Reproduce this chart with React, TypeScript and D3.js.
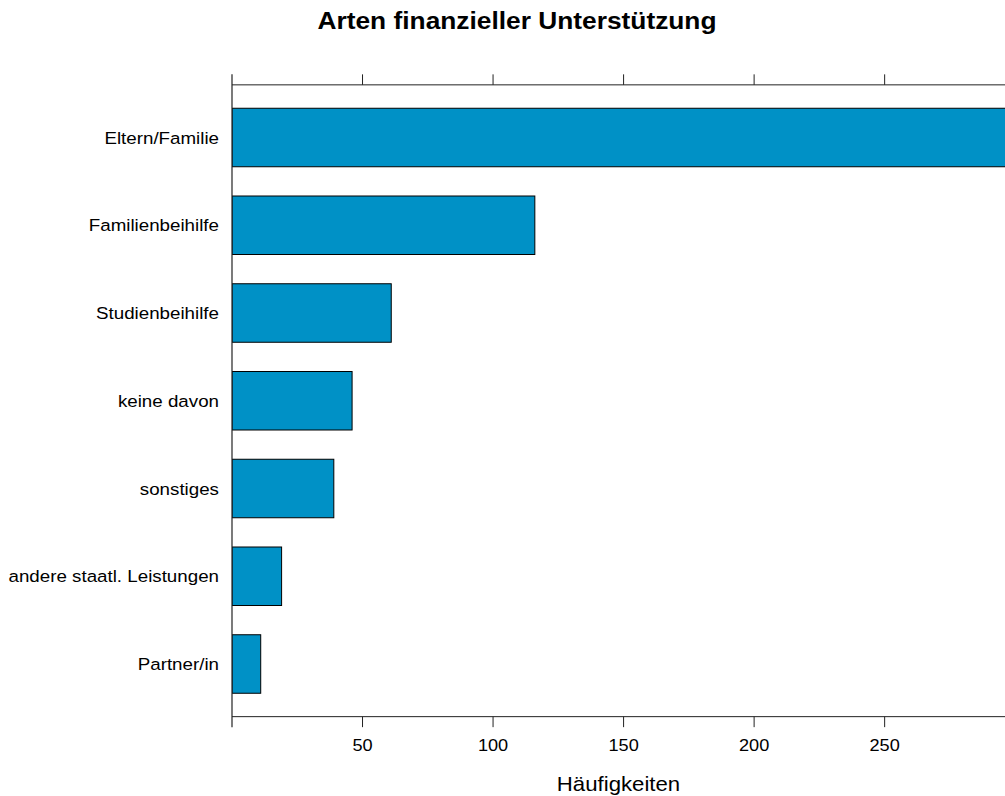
import React, { useRef, useEffect } from "react";
import * as d3 from "d3";

// data (top to bottom)
const categories = [
  "Eltern/Familie",
  "Familienbeihilfe",
  "Studienbeihilfe",
  "keine davon",
  "sonstiges",
  "andere staatl. Leistungen",
  "Partner/in",
];
const counts = [300, 116, 61, 46, 39, 19, 11];
const xTicks = [50, 100, 150, 200, 250];

const TITLE = "Arten finanzieller Unterstützung";
const X_LABEL = "Häufigkeiten";
const BAR_COLOR = "#0091c6";
const FONT = "'Liberation Sans', Arial, Helvetica, sans-serif";

// the reference text is a bit wider than Arial, so stretch it horizontally
function placeText(
  sel: d3.Selection<SVGTextElement, any, any, any>,
  fx: (d: any, i: number) => number,
  fy: (d: any, i: number) => number,
  sx: number
) {
  sel.attr("transform", (d, i) => `translate(${fx(d, i)},${fy(d, i)}) scale(${sx},1)`);
}

function drawChart(svgElement: SVGSVGElement, totalWidth: number, totalHeight: number) {
  const panel = { left: 232, right: 1005, top: 84.85, bottom: 716.65 };

  const svg = d3.select(svgElement);
  svg.selectAll("*").remove();
  svg.attr("width", totalWidth).attr("height", totalHeight);

  svg
    .append("rect")
    .attr("width", totalWidth)
    .attr("height", totalHeight)
    .attr("fill", "white");

  // x: linear from 0, panel is cut off at the right edge
  const x = d3.scaleLinear().domain([0, 296.1]).range([panel.left, panel.right]);

  // y: lattice style, categories 1..n with limits extended by 0.6
  const n = categories.length;
  const y = d3
    .scaleLinear()
    .domain([0.4, n + 0.6])
    .range([panel.top, panel.bottom]);
  const step = y(2) - y(1);
  const barH = (step * 2) / 3;

  svg
    .append("defs")
    .append("clipPath")
    .attr("id", "panel-clip")
    .append("rect")
    .attr("x", panel.left)
    .attr("y", panel.top)
    .attr("width", panel.right - panel.left)
    .attr("height", panel.bottom - panel.top);

  // bars
  svg
    .append("g")
    .attr("clip-path", "url(#panel-clip)")
    .selectAll("rect")
    .data(categories)
    .enter()
    .append("rect")
    .attr("x", x(0))
    .attr("y", (d, i) => y(i + 1) - barH / 2)
    .attr("width", (d, i) => x(counts[i]) - x(0))
    .attr("height", barH)
    .attr("fill", BAR_COLOR)
    .attr("stroke", "#000")
    .attr("stroke-width", 1);

  const axisColor = "#222";

  // panel frame (top, bottom, left)
  svg
    .append("line")
    .attr("x1", panel.left)
    .attr("x2", panel.right)
    .attr("y1", panel.top)
    .attr("y2", panel.top)
    .attr("stroke", axisColor);
  svg
    .append("line")
    .attr("x1", panel.left)
    .attr("x2", panel.right)
    .attr("y1", panel.bottom)
    .attr("y2", panel.bottom)
    .attr("stroke", axisColor);
  svg
    .append("line")
    .attr("x1", panel.left)
    .attr("x2", panel.left)
    .attr("y1", panel.top - 10.5)
    .attr("y2", panel.bottom + 10.5)
    .attr("stroke", axisColor)
    .attr("stroke-width", 1.2);

  // ticks top & bottom
  const tickG = svg.append("g").attr("stroke", axisColor);
  tickG
    .selectAll("line.top")
    .data(xTicks)
    .enter()
    .append("line")
    .attr("x1", (d) => x(d))
    .attr("x2", (d) => x(d))
    .attr("y1", panel.top)
    .attr("y2", panel.top - 10.5);
  tickG
    .selectAll("line.bottom")
    .data(xTicks)
    .enter()
    .append("line")
    .attr("x1", (d) => x(d))
    .attr("x2", (d) => x(d))
    .attr("y1", panel.bottom)
    .attr("y2", panel.bottom + 10.5);

  // tick labels
  const tickLabels = svg
    .append("g")
    .selectAll("text")
    .data(xTicks)
    .enter()
    .append("text")
    .attr("text-anchor", "middle")
    .attr("font-family", FONT)
    .attr("font-size", 16.5)
    .attr("fill", "#000")
    .text((d) => String(d));
  placeText(tickLabels, (d) => x(d), () => 751, 1.1);

  // category labels
  const catLabels = svg
    .append("g")
    .selectAll("text")
    .data(categories)
    .enter()
    .append("text")
    .attr("dy", "0.35em")
    .attr("text-anchor", "end")
    .attr("font-family", FONT)
    .attr("font-size", 17.2)
    .attr("fill", "#000")
    .text((d) => d);
  placeText(catLabels, () => 219, (d, i) => y(i + 1), 1.09);

  // title
  svg
    .append("text")
    .attr("transform", `translate(517,29) scale(1.12,1)`)
    .attr("text-anchor", "middle")
    .attr("font-family", FONT)
    .attr("font-weight", "bold")
    .attr("font-size", 23.5)
    .attr("fill", "#000")
    .text(TITLE);

  // x axis label
  svg
    .append("text")
    .attr("transform", `translate(${(panel.left + panel.right) / 2},791) scale(1.11,1)`)
    .attr("text-anchor", "middle")
    .attr("font-family", FONT)
    .attr("font-size", 20)
    .attr("fill", "#000")
    .text(X_LABEL);
}

const App: React.FunctionComponent = function () {
  const svgRef = useRef<SVGSVGElement>(null);

  useEffect(() => {
    if (svgRef.current == null) {
      return;
    }
    drawChart(svgRef.current, 1005, 796);
  }, []);

  return (
    <svg
      ref={svgRef}
      style={{ position: "absolute", left: 0, top: 0, display: "block" }}
    ></svg>
  );
};

export default App;
